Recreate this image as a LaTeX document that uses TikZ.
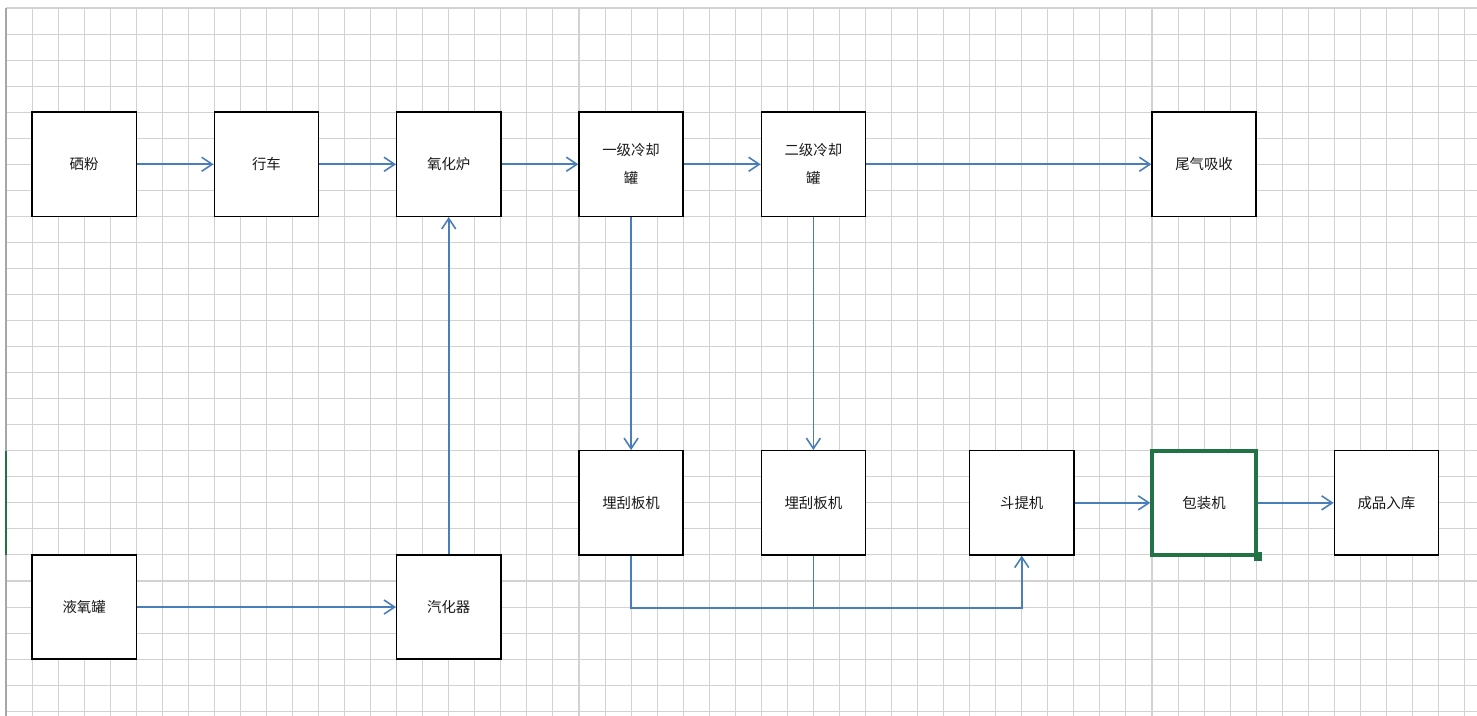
\documentclass[tikz,border=0pt]{standalone}
\usepackage{fontspec}
\setmainfont{Noto Sans CJK SC}
\usepackage{xcolor}
\usepackage{tikz}
\usetikzlibrary{arrows.meta, positioning}

\definecolor{flowblue}{RGB}{74,126,187}
\definecolor{selgreen}{RGB}{33,115,70}
\definecolor{cellgray}{RGB}{210,210,210}

\tikzset{
    box/.style={draw, line width=0.8pt, fill=white, minimum width=2.084cm, minimum height=2.084cm,
        inner sep=0pt, align=center, text=black!90, font=\fontsize{8.2pt}{16pt}\selectfont},
    flow/.style={draw=flowblue, line width=0.9pt, -{Straight Barb[length=6pt, width=8pt]}},
    link/.style={draw=flowblue, line width=0.9pt},
}

\begin{document}
\begin{tikzpicture}[x=0.521cm, y=-0.521cm, node distance=3.647cm]
        \useasboundingbox (-0.23,-0.307) rectangle (56.48,27.18);
        \fill[white] (-0.23,-0.307) rectangle (56.48,27.18);

        % Sheet
        \foreach \c in {1,...,56}
            \draw[cellgray, line width=0.6pt] (\c,0) -- (\c,28);
        \foreach \r in {0,...,27}
            \draw[cellgray, line width=0.6pt] (0,\r) -- (57,\r);
        \draw[gray!70, line width=0.8pt] (0,0) -- (0,28);
        \draw[selgreen, line width=1pt] (0,17) -- (0,21);

        \node (xf) [box] at (3,6) {硒粉};
        \node (hc) [box, right of=xf] {行车};
        \node (yhl) [box, right of=hc] {氧化炉};
        \node (lq1) [box, right of=yhl] {一级冷却\\罐};
        \node (lq2) [box, right of=lq1] {二级冷却\\罐};
        \node (wq) [box, right of=lq2, xshift=4.168cm] {尾气吸收};

        \node (gs1) [box, below of=lq1, yshift=-3.126cm] {埋刮板机};
        \node (gs2) [box, right of=gs1] {埋刮板机};
        \node (dt) [box, right of=gs2, xshift=0.521cm] {斗提机};
        \node (bz) [box, right of=dt, draw=selgreen, line width=2pt] {包装机};
        \node (cp) [box, right of=bz] {成品入库};
        \node (grip) [fill=selgreen, minimum size=5pt, inner sep=0pt] at (bz.south east) {};

        \node (yy) [box, below of=xf, yshift=-5.21cm] {液氧罐};
        \node (qh) [box, right of=yy, xshift=3.647cm] {汽化器};

        \coordinate (bus) at ([yshift=-1.042cm]gs2.south);

        % Lines
        \draw [flow] (xf) -- (hc);
        \draw [flow] (hc) -- (yhl);
        \draw [flow] (yhl) -- (lq1);
        \draw [flow] (lq1) -- (lq2);
        \draw [flow] (lq2) -- (wq);
        \draw [flow] (yy) -- (qh);
        \draw [flow] (qh) -- (yhl);
        \draw [flow] (lq1) -- (gs1);
        \draw [flow] (lq2) -- (gs2);
        \draw [link] (gs2.south) -- (bus);
        \draw [flow] (gs1.south) |- (bus) -| (dt.south);
        \draw [flow] (dt) -- (bz);
        \draw [flow] (bz) -- (cp);

    \end{tikzpicture}
\end{document}
